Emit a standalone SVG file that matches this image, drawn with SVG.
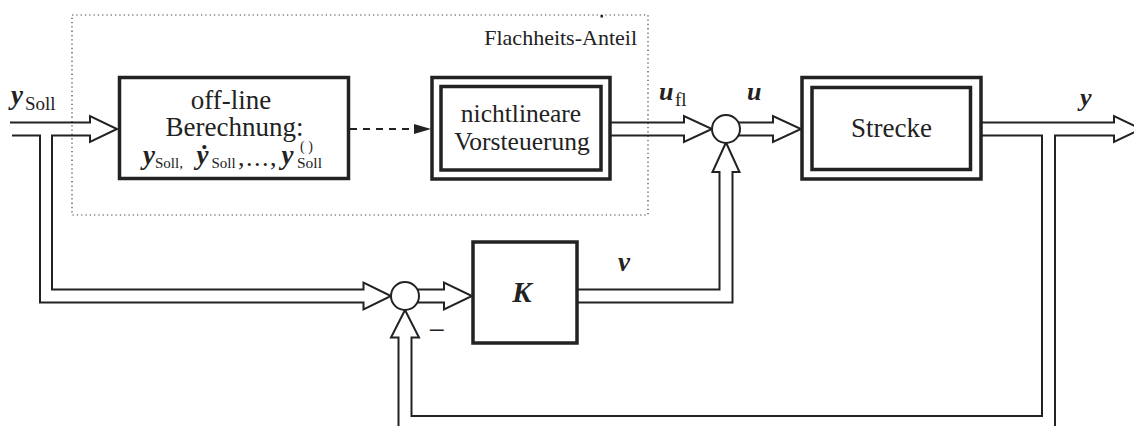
<svg xmlns="http://www.w3.org/2000/svg" width="1134" height="426" viewBox="0 0 1134 426">
<style>
.box{fill:#fff;stroke:#222;stroke-width:3.5}
.wire{fill:none;stroke:#222;stroke-width:2;stroke-linejoin:miter}
.sum{fill:#fff;stroke:#222;stroke-width:2}
text{font-family:"Liberation Serif","Times New Roman",serif;fill:#222}
.bi{font-weight:bold;font-style:italic}
.mid{text-anchor:middle}
</style>
<rect width="1134" height="426" fill="#fff"/>
<g id="flatness-region">
<rect x="72" y="15" width="576" height="200" fill="none" stroke="#444" stroke-width="1.2" stroke-dasharray="1.3 3"/>
<rect x="600.5" y="15" width="2.5" height="2.5" fill="#222"/>
<text x="637" y="45" font-size="22" text-anchor="end">Flachheits-Anteil</text>
</g>
<g id="connectors">
<path class="wire" d="M10,122.5 H90 V116 L117,129 L90,142 V135.5 H52 V289.5 H363.5 V282.5 L391,296 L363.5,309.5 V302.5 H40 V135.5 H12"/>
<line x1="350" y1="129" x2="414" y2="129" stroke="#222" stroke-width="2" stroke-dasharray="7 6"/>
<polygon points="414,124 431,129 414,134" fill="#222"/>
<path class="wire" d="M610,122.5 H684 V116 L712,129 L684,142 V135.5 H610"/>
<path class="wire" d="M736,122.5 H773 V116 L801,129 L773,142 V135.5 H736"/>
<path class="wire" d="M981,122.5 H1114 V116 L1141,129 L1114,142 V135.5 H1055 V426"/>
<path class="wire" d="M981,135.5 H1042 V416 H411.5 V337.5 H419 L405,310 L391,337.5 H398.5 V426"/>
<path class="wire" d="M418,289.5 H444 V282.5 L472,296 L444,309.5 V302.5 H418"/>
<path class="wire" d="M577,289.5 H719.5 V172 H712.5 L726,142.5 L739.5,172 H732.5 V302.5 H577"/>
</g>
<g id="sum-top"><circle class="sum" cx="726" cy="129" r="14"/></g>
<g id="sum-bottom"><circle class="sum" cx="405" cy="296" r="14"/>
<text x="437" y="340" font-size="30" class="mid">−</text></g>
<g id="offline">
<rect class="box" x="119.5" y="77.5" width="229" height="101"/>
<text x="231" y="109" font-size="27" class="mid">off-line</text>
<text x="234.5" y="135.5" font-size="27" class="mid">Berechnung:</text>
<text font-size="27"><tspan x="143" y="164" class="bi">y</tspan><tspan x="155" y="167.5" font-size="15">Soll,</tspan><tspan x="196.5" y="164" class="bi">ẏ</tspan><tspan x="211.5" y="167.5" font-size="15">Soll</tspan><tspan x="238" y="166" font-size="26" letter-spacing="1.5">,...,</tspan><tspan x="281.5" y="164" class="bi">y</tspan><tspan x="300" y="151" font-size="14">( )</tspan><tspan x="297" y="167.5" font-size="15.5">Soll</tspan></text>
</g>
<g id="vorsteuerung">
<rect class="box" x="432" y="77.5" width="178" height="101.5"/>
<rect class="box" x="441" y="86.5" width="160" height="83.5"/>
<text x="521" y="121.5" font-size="25.5" class="mid">nichtlineare</text>
<text x="522" y="150" font-size="25.5" class="mid">Vorsteuerung</text>
</g>
<g id="strecke">
<rect class="box" x="802" y="77.5" width="179" height="101.5"/>
<rect class="box" x="812" y="87.5" width="158.5" height="82"/>
<text x="891.5" y="137" font-size="27" class="mid">Strecke</text>
</g>
<g id="regler">
<rect class="box" x="473" y="242" width="104" height="101"/>
<text x="522" y="302" font-size="29" class="bi mid">K</text>
</g>
<g id="labels">
<text x="11" y="104" font-size="27" class="bi">y</text>
<text x="25" y="110" font-size="19">Soll</text>
<text x="659" y="100" font-size="26" class="bi">u</text>
<text x="675" y="106" font-size="19">fl</text>
<text x="747" y="100" font-size="26" class="bi">u</text>
<text x="1080" y="106" font-size="26" class="bi">y</text>
<text x="618" y="271" font-size="27" class="bi">v</text>
</g>
</svg>
